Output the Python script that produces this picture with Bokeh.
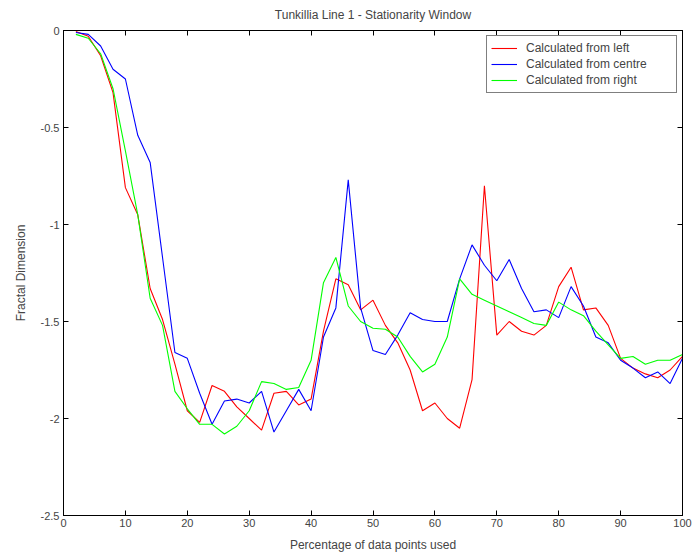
from bokeh.plotting import figure
from bokeh.models import LinearAxis, Range1d, Legend, LegendItem, FixedTicker
from bokeh.embed import file_html
from bokeh.resources import INLINE

# ---- data ----
pct = [2, 4, 6, 8, 10, 12, 14, 16, 18, 20, 22, 24, 26, 28, 30, 32, 34, 36, 38, 40,
       42, 44, 46, 48, 50, 52, 54, 56, 58, 60, 62, 64, 66, 68, 70, 72, 74, 76, 78, 80,
       82, 84, 86, 88, 90, 92, 94, 96, 98, 100]

from_left = [-0.005, -0.03, -0.13, -0.32, -0.81, -0.95, -1.33, -1.49, -1.72, -1.96,
             -2.02, -1.83, -1.86, -1.94, -2.00, -2.06, -1.87, -1.86, -1.93, -1.90,
             -1.55, -1.28, -1.31, -1.44, -1.39, -1.52, -1.61, -1.75, -1.96, -1.92,
             -2.00, -2.05, -1.80, -0.80, -1.57, -1.50, -1.55, -1.57, -1.52, -1.32,
             -1.22, -1.44, -1.43, -1.52, -1.69, -1.74, -1.77, -1.79, -1.75, -1.68]

from_centre = [-0.01, -0.02, -0.08, -0.20, -0.25, -0.54, -0.68, -1.17, -1.66, -1.69,
               -1.87, -2.03, -1.91, -1.90, -1.92, -1.86, -2.07, -1.96, -1.85, -1.96,
               -1.58, -1.43, -0.77, -1.43, -1.65, -1.67, -1.57, -1.455, -1.49, -1.50,
               -1.50, -1.28, -1.105, -1.21, -1.29, -1.18, -1.33, -1.45, -1.44, -1.48,
               -1.32, -1.42, -1.58, -1.61, -1.70, -1.74, -1.79, -1.76, -1.82, -1.69]

from_right = [-0.02, -0.04, -0.12, -0.30, -0.62, -0.95, -1.38, -1.52, -1.86, -1.95,
              -2.03, -2.03, -2.08, -2.04, -1.96, -1.81, -1.82, -1.85, -1.84, -1.70,
              -1.30, -1.17, -1.42, -1.50, -1.535, -1.54, -1.58, -1.68, -1.76, -1.72,
              -1.58, -1.28, -1.36, -1.39, -1.42, -1.45, -1.48, -1.51, -1.52, -1.40,
              -1.44, -1.47, -1.55, -1.62, -1.69, -1.68, -1.72, -1.70, -1.70, -1.67]

series_names = ["Calculated from left", "Calculated from centre", "Calculated from right"]
series_colors = ["#ff0000", "#0000ff", "#00ff00"]

x_ticks = [0, 10, 20, 30, 40, 50, 60, 70, 80, 90, 100]
y_ticks = [-2.5, -2.0, -1.5, -1.0, -0.5, 0.0]
y_tick_labels = ["-2.5", "-2", "-1.5", "-1", "-0.5", "0"]

title_text = "Tunkillia Line 1 - Stationarity Window"
x_label = "Percentage of data points used"
y_label = "Fractal Dimension"

FONT = "Liberation Sans"

p = figure(width=692, height=555, output_backend="svg", toolbar_location=None,
           x_range=Range1d(0, 100), y_range=Range1d(-2.5, 0),
           min_border_left=63, min_border_right=10, min_border_top=30, min_border_bottom=40,
           title=title_text)
p.background_fill_color = "white"
p.border_fill_color = "white"
p.outline_line_color = "black"
p.outline_line_width = 1
p.grid.visible = False

p.title.align = "center"
p.title.vertical_align = "top"
p.title.text_font = FONT
p.title.text_font_size = "12px"
p.title.text_font_style = "normal"
p.title.standoff = 14

def style_axis(ax, show_labels):
    ax.axis_line_color = "black"
    ax.major_tick_in = 5
    ax.major_tick_out = 0
    ax.minor_tick_line_color = None
    ax.major_tick_line_color = "black"
    ax.major_label_text_font = FONT
    ax.major_label_text_font_size = "11px"
    ax.axis_label_text_font = FONT
    ax.axis_label_text_font_size = "12px"
    ax.axis_label_text_font_style = "normal"
    if not show_labels:
        ax.major_label_text_color = None

xax = p.xaxis[0]
xax.ticker = FixedTicker(ticks=x_ticks)
xax.axis_label = x_label
xax.major_label_standoff = 3
xax.axis_label_standoff = 8
style_axis(xax, True)

yax = p.yaxis[0]
yax.ticker = FixedTicker(ticks=y_ticks)
yax.major_label_overrides = {t: l for t, l in zip(y_ticks, y_tick_labels)}
yax.axis_label = y_label
yax.major_label_standoff = 4
yax.axis_label_standoff = 10
style_axis(yax, True)

top_ax = LinearAxis(ticker=FixedTicker(ticks=x_ticks))
style_axis(top_ax, False)
p.add_layout(top_ax, "above")

right_ax = LinearAxis(ticker=FixedTicker(ticks=y_ticks))
style_axis(right_ax, False)
p.add_layout(right_ax, "right")

series = [from_left, from_centre, from_right]
items = []
for name, color, ys in zip(series_names, series_colors, series):
    r = p.line(pct, ys, line_color=color, line_width=1.1)
    items.append(LegendItem(label=name, renderers=[r]))

legend = Legend(items=items, location="top_right")
legend.margin = 5
legend.padding = 4
legend.spacing = 0
legend.glyph_width = 26
legend.glyph_height = 16
legend.label_height = 16
legend.label_width = 146
legend.label_standoff = 9
legend.label_text_font = FONT
legend.label_text_font_size = "12px"
legend.border_line_color = "black"
legend.border_line_width = 1
legend.background_fill_color = "white"
legend.background_fill_alpha = 1
p.add_layout(legend)

open("out.html", "w").write(file_html(p, INLINE))
